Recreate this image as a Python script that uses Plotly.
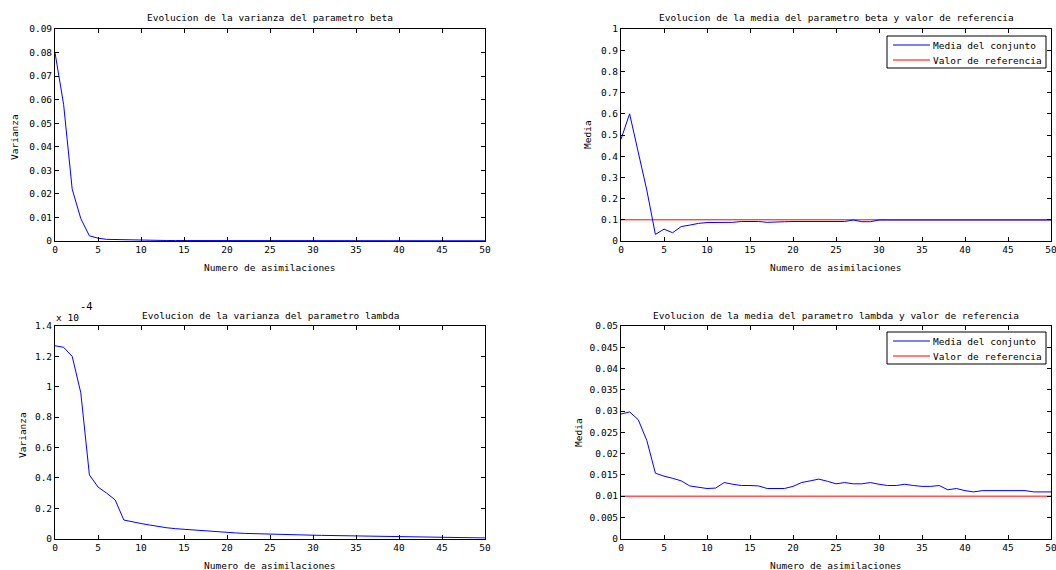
import plotly.graph_objects as go

W, H = 1056, 570

# ---------------- data ----------------
asimilaciones = list(range(0, 51))

var_beta = [0.080, 0.058, 0.022, 0.0095, 0.0022, 0.0012, 0.0007, 0.0006, 0.0004, 0.0003,
            0.0003, 0.0003, 0.0002, 0.0002, 0.0002, 0.0002, 0.0002, 0.0002, 0.0002, 0.0002,
            0.0002, 0.0002, 0.0002, 0.0002, 0.0002, 0.0002, 0.0002, 0.0002, 0.0002, 0.0002,
            0.0001, 0.0001, 0.0001, 0.0001, 0.0001, 0.0001, 0.0001, 0.0001, 0.0001, 0.0001,
            0.0001, 0.0001, 0.0001, 0.0001, 0.0001, 0.0001, 0.0001, 0.0001, 0.0001, 0.0001,
            0.0001]

media_beta = [0.48, 0.60, 0.42, 0.24, 0.031, 0.056, 0.039, 0.068, 0.075, 0.083,
              0.087, 0.087, 0.087, 0.088, 0.092, 0.092, 0.092, 0.088, 0.088, 0.091,
              0.092, 0.092, 0.092, 0.092, 0.092, 0.092, 0.092, 0.099, 0.091, 0.091,
              0.099, 0.099, 0.099, 0.099, 0.099, 0.099, 0.099, 0.099, 0.099, 0.099,
              0.099, 0.099, 0.099, 0.099, 0.099, 0.099, 0.099, 0.099, 0.099, 0.099,
              0.099]
ref_beta = 0.1

# lambda variance, in units of 1e-4
var_lambda_e4 = [1.27, 1.26, 1.20, 0.96, 0.42, 0.34, 0.30, 0.255, 0.123, 0.11,
                 0.10, 0.09, 0.08, 0.072, 0.066, 0.062, 0.057, 0.050, 0.047, 0.043,
                 0.040, 0.038, 0.035, 0.033, 0.031, 0.030, 0.029, 0.028, 0.027, 0.025,
                 0.023, 0.022, 0.021, 0.020, 0.019, 0.018, 0.017, 0.016, 0.015, 0.014,
                 0.013, 0.012, 0.011, 0.010, 0.009, 0.007, 0.006, 0.005, 0.005, 0.005,
                 0.005]

media_lambda = [0.0293, 0.0298, 0.0280, 0.0231, 0.0154, 0.0147, 0.0142, 0.0136, 0.0124, 0.0121,
                0.0118, 0.0119, 0.0132, 0.0128, 0.0125, 0.0125, 0.0124, 0.0118, 0.0118, 0.0118,
                0.0123, 0.0132, 0.0136, 0.0140, 0.0135, 0.0129, 0.0132, 0.0129, 0.0129, 0.0132,
                0.0128, 0.0125, 0.0125, 0.0128, 0.0125, 0.0123, 0.0123, 0.0125, 0.0115, 0.0118,
                0.0113, 0.0110, 0.0113, 0.0113, 0.0113, 0.0113, 0.0113, 0.0113, 0.0110, 0.0110,
                0.0110]
ref_lambda = 0.01

titles = ["Evolucion de la varianza del parametro beta",
          "Evolucion de la media del parametro beta y valor de referencia",
          "Evolucion de la varianza del parametro lambda",
          "Evolucion de la media del parametro lambda y valor de referencia"]
xlabel = "Numero de asimilaciones"
ylabels = ["Varianza", "Media", "Varianza", "Media"]
legend_names = ["Media del conjunto", "Valor de referencia"]

FONT = "DejaVu Sans Mono"
FS = 9.5
BLUE, RED = "#0000ff", "#ff0000"

def px(x): return x / W
def py(y): return 1 - y / H

# pixel boxes: (left, right, top, bottom)
boxes = [(55, 485, 29, 241), (621, 1051, 29, 241),
         (55, 485, 326, 538.7), (621, 1051, 326, 538.7)]

fig = go.Figure()

fig.add_trace(go.Scatter(x=asimilaciones, y=var_beta, mode="lines",
                         line=dict(color=BLUE, width=1), showlegend=False,
                         xaxis="x", yaxis="y"))
fig.add_trace(go.Scatter(x=asimilaciones, y=[ref_beta] * len(asimilaciones), mode="lines",
                         name=legend_names[1], line=dict(color=RED, width=1), showlegend=False,
                         xaxis="x2", yaxis="y2"))
fig.add_trace(go.Scatter(x=asimilaciones, y=media_beta, mode="lines", name=legend_names[0],
                         line=dict(color=BLUE, width=1), showlegend=False,
                         xaxis="x2", yaxis="y2"))
fig.add_trace(go.Scatter(x=asimilaciones, y=var_lambda_e4, mode="lines",
                         line=dict(color=BLUE, width=1), showlegend=False,
                         xaxis="x3", yaxis="y3"))
fig.add_trace(go.Scatter(x=asimilaciones, y=media_lambda, mode="lines", name=legend_names[0],
                         line=dict(color=BLUE, width=1), showlegend=False,
                         xaxis="x4", yaxis="y4"))
fig.add_trace(go.Scatter(x=asimilaciones, y=[ref_lambda] * len(asimilaciones), mode="lines",
                         name=legend_names[1], line=dict(color=RED, width=1), showlegend=False,
                         xaxis="x4", yaxis="y4"))

yranges = [(0, 0.09, 0.01), (0, 1, 0.1), (0, 1.4, 0.2), (0, 0.05, 0.005)]

axis_common = dict(showline=True, linecolor="#000000", linewidth=1, mirror="ticks",
                   ticks="inside", ticklen=4, tickcolor="#000000", showgrid=False,
                   zeroline=False, automargin=False, ticklabeloverflow="allow",
                   tickfont=dict(family=FONT, size=FS, color="#000"))

layout = {}
for i, (l, r, t, b) in enumerate(boxes):
    n = "" if i == 0 else str(i + 1)
    lo, hi, dt = yranges[i]
    layout["xaxis" + n] = dict(domain=[px(l), px(r)], range=[0, 50], dtick=5, tick0=0,
                               anchor="y" + n, **axis_common)
    layout["yaxis" + n] = dict(domain=[py(b), py(t)], range=[lo, hi], dtick=dt, tick0=0,
                               anchor="x" + n, **axis_common)

fig.update_layout(**layout)

ann = []
shapes = []
txt = dict(family=FONT, size=FS, color="#000")
title_y = [18, 18, 315, 315]
xlab_y = [267, 267, 565, 565]
ylab_pos = [(15, 137), (588, 135), (22, 435), (578, 433)]
for i, (l, r, t, b) in enumerate(boxes):
    cx = (l + r) / 2
    ann.append(dict(text=titles[i], x=px(cx), y=py(title_y[i]), xref="paper", yref="paper",
                    xanchor="center", yanchor="middle", showarrow=False, font=txt))
    ann.append(dict(text=xlabel, x=px(cx), y=py(xlab_y[i]), xref="paper", yref="paper",
                    xanchor="center", yanchor="middle", showarrow=False, font=txt))
    ann.append(dict(text=ylabels[i], x=px(ylab_pos[i][0]), y=py(ylab_pos[i][1]),
                    xref="paper", yref="paper", xanchor="center", yanchor="middle",
                    textangle=-90, showarrow=False, font=txt))
# exponent label
ann.append(dict(text="x 10", x=px(54), y=py(317), xref="paper", yref="paper",
                xanchor="left", yanchor="middle", showarrow=False, font=txt))
ann.append(dict(text="-4", x=px(78), y=py(306), xref="paper", yref="paper",
                xanchor="left", yanchor="middle", showarrow=False,
                font=dict(family=FONT, size=FS + 1, color="#000")))

# legends (box, key lines, labels) for the two "media" panels
for top in (36, 332):
    shapes.append(dict(type="rect", xref="paper", yref="paper",
                       x0=px(887), x1=px(1046), y0=py(top + 32), y1=py(top),
                       line=dict(color="#000", width=1), fillcolor="#fff", layer="above"))
    for k, (name, col) in enumerate(zip(legend_names, [BLUE, RED])):
        yy = top + 9 + k * 15
        shapes.append(dict(type="line", xref="paper", yref="paper",
                           x0=px(893), x1=px(930), y0=py(yy), y1=py(yy),
                           line=dict(color=col, width=1), layer="above"))
        ann.append(dict(text=name, x=px(931), y=py(yy), xref="paper", yref="paper",
                        xanchor="left", yanchor="middle", showarrow=False, font=txt))

fig.update_layout(
    width=W, height=H, margin=dict(l=0, r=0, t=0, b=0, autoexpand=False),
    paper_bgcolor="#ffffff", plot_bgcolor="#ffffff",
    annotations=ann, shapes=shapes, showlegend=False,
)

fig.write_html("out.html", config={"displayModeBar": False},
               post_script="document.body.style.margin='0';document.body.style.overflow='hidden';")
